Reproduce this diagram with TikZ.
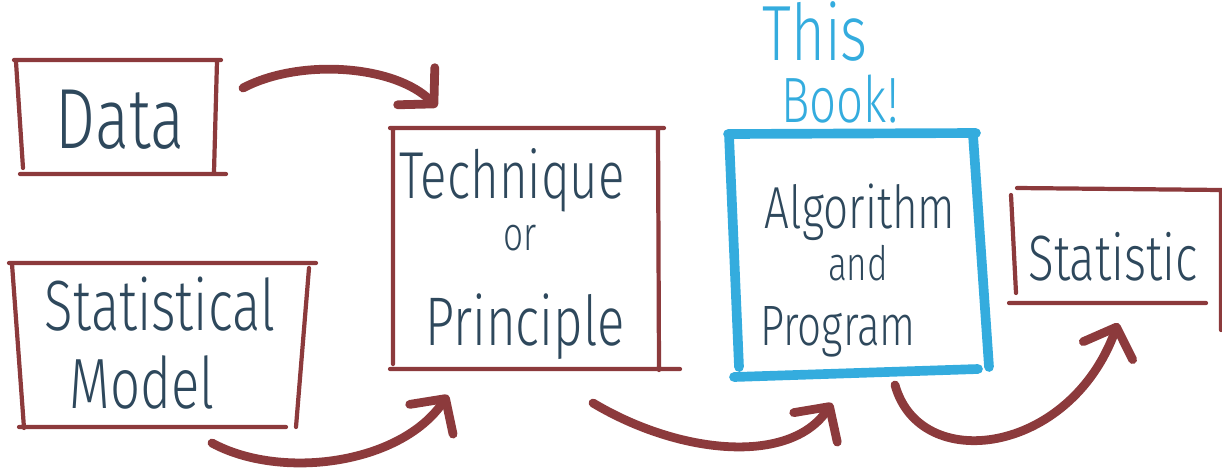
\documentclass[tikz,border=0pt]{standalone}
\usepackage{fontspec}
\newfontfamily\handfont{Fira Sans Light}
\usepackage{xcolor}
\definecolor{brick}{RGB}{140, 58, 60}
\definecolor{sky}{RGB}{ 52,172,222}
\definecolor{slate}{RGB}{ 46, 72, 92}
\usetikzlibrary{arrows.meta}
% tall, narrow lettering
\newcommand{\hw}[2]{\scalebox{1}[1.35]{\fontsize{#1}{#1}\selectfont #2}}

\tikzset{
  frame/.style={draw=brick, line width=2.4pt, line cap=round},
  bookframe/.style={draw=sky, line width=5.5pt, line cap=round},
  word/.style={anchor=base, inner sep=0pt, text=slate, font=\handfont},
  bookword/.style={word, text=sky},
  flow/.style={draw=brick, line width=5pt, line cap=round,
    -{Straight Barb[length=5mm, width=10.5mm, round]}}
}

\begin{document}
\begin{tikzpicture}[x=0.02cm, y=-0.02cm]
    \useasboundingbox (0,0) rectangle (1222,467);

    % inputs
    \draw[frame] (14,60) -- (221,60) (16,62) -- (23,168)
                 (217,61) -- (214,172) (20,174) -- (226,174);
    \node[word] (data) at (120,148) {\hw{36}{Data}};

    \draw[frame] (9,263) -- (316,263) (12,264) -- (24,428)
                 (309,268) -- (296,427) (19,427) -- (286,427);
    \node[word] (statl) at (160,330) {\hw{30}{Statistical}};
    \node[word] (model) at (142,408) {\hw{30}{Model}};

    % technique
    \draw[frame] (390,128) -- (664,128) (393,130) -- (393,364)
                 (658,130) -- (659,370) (390,369) -- (680,369);
    \node[word] (tech)   at (512,198) {\hw{28}{Technique}};
    \node[word] (techor) at (520,250) {\hw{20}{or}};
    \node[word] (princ)  at (525,345) {\hw{29}{Principle}};

    % the book
    \draw[bookframe] (728,134) -- (976,133) (973,135) -- (989,367)
                     (734,377) -- (978,369) (729,135) -- (739,367);
    \node[word] (algo)   at (860,228) {\hw{25}{Algorithm}};
    \node[word] (algand) at (858,280) {\hw{20}{and}};
    \node[word] (prog)   at (838,345) {\hw{24}{Program}};
    \node[bookword] (this) at (815,60)  {\hw{33}{This}};
    \node[bookword] (book) at (840,122) {\hw{27}{Book!}};

    % output
    \draw[frame] (1017,188) -- (1222,190) (1011,195) -- (1016,293)
                 (1009,303) -- (1206,303) (1221,190) -- (1221,330);
    \node[word] (stat) at (1113,280) {\hw{27}{Statistic}};

    % arrow ends
    \coordinate (dataout)  at (243,88);
    \coordinate (techtop)  at (437,107);
    \coordinate (modelout) at (212,443);
    \coordinate (techbot)  at (448,395);
    \coordinate (techout)  at (593,403);
    \coordinate (algobot)  at (832,403);
    \coordinate (algoout)  at (895,385);
    \coordinate (statbot)  at (1118,323);

    \draw[flow] (dataout) .. controls (300,58) and (395,65) .. (techtop);
    \draw[flow] (modelout) .. controls (280,480) and (400,465) .. (techbot);
    \draw[flow] (techout) .. controls (680,455) and (790,465) .. (algobot);
    \draw[flow] (algoout) .. controls (920,475) and (1070,455) .. (statbot);
\end{tikzpicture}
\end{document}
